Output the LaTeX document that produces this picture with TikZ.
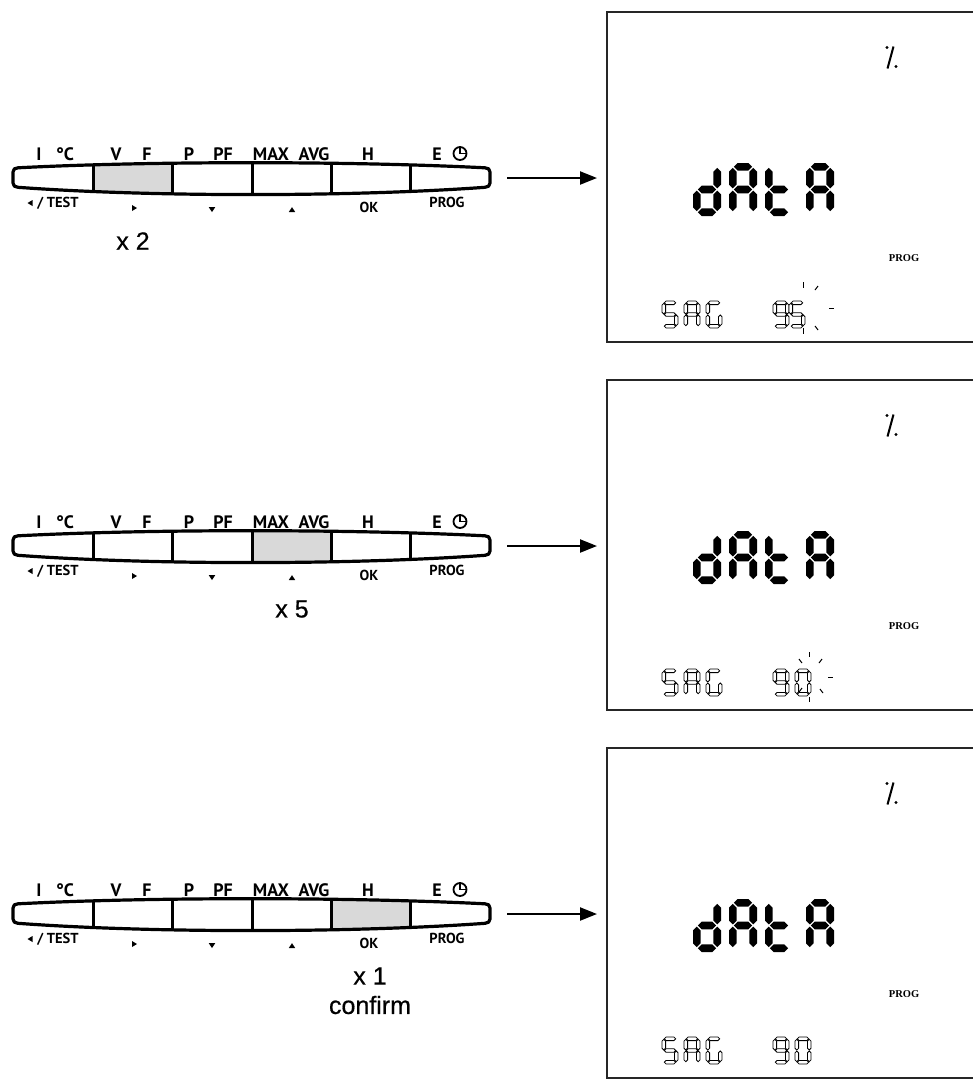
\documentclass[tikz,border=0pt]{standalone}
\usepackage{fontspec}
\setmainfont{Liberation Serif}
\newfontfamily\btnfont{PT Sans}
\newfontfamily\helv[FakeBold=0.6]{Liberation Sans}
\usetikzlibrary{arrows.meta}

\newcommand\HSg[4]{%
 \path[#1] ({#2},{#4}) -- ({#2+\LcH},{#4-\LcH}) -- ({#3-\LcH},{#4-\LcH}) -- ({#3},{#4}) -- ({#3-\LcH},{#4+\LcH}) -- ({#2+\LcH},{#4+\LcH}) -- cycle;}
\newcommand\VSg[4]{%
 \path[#1] ({#2},{#3}) -- ({#2+\LcH},{#3+\LcH}) -- ({#2+\LcH},{#4-\LcH}) -- ({#2},{#4}) -- ({#2-\LcH},{#4-\LcH}) -- ({#2-\LcH},{#3+\LcH}) -- cycle;}
\newcommand\SevSeg[7]{%
 \pgfmathsetmacro\LcX{#2}\pgfmathsetmacro\LcY{#3}\pgfmathsetmacro\LcW{#4}\pgfmathsetmacro\LcHt{#5}%
 \pgfmathsetmacro\LcH{#6/2}\pgfmathsetmacro\LcG{0.14*#6}%
 \pgfmathsetmacro\LcXL{\LcX+\LcH}\pgfmathsetmacro\LcXR{\LcX+\LcW-\LcH}%
 \pgfmathsetmacro\LcHa{\LcXL+\LcG}\pgfmathsetmacro\LcHb{\LcXR-\LcG}%
 \pgfmathsetmacro\LcYT{\LcY+\LcH}\pgfmathsetmacro\LcYM{\LcY+\LcHt/2}\pgfmathsetmacro\LcYB{\LcY+\LcHt-\LcH}%
 \pgfmathsetmacro\LcVa{\LcYT+\LcG}\pgfmathsetmacro\LcVb{\LcYM-\LcG}%
 \pgfmathsetmacro\LcVc{\LcYM+\LcG}\pgfmathsetmacro\LcVd{\LcYB-\LcG}%
 \foreach \s in {#7}{\csname LcSeg\s\endcsname{#1}}}
\newcommand\LcSega[1]{\HSg{#1}{\LcHa}{\LcHb}{\LcYT}}
\newcommand\LcSegg[1]{\HSg{#1}{\LcHa}{\LcHb}{\LcYM}}
\newcommand\LcSegd[1]{\HSg{#1}{\LcHa}{\LcHb}{\LcYB}}
\newcommand\LcSegf[1]{\VSg{#1}{\LcXL}{\LcVa}{\LcVb}}
\newcommand\LcSegb[1]{\VSg{#1}{\LcXR}{\LcVa}{\LcVb}}
\newcommand\LcSege[1]{\VSg{#1}{\LcXL}{\LcVc}{\LcVd}}
\newcommand\LcSegc[1]{\VSg{#1}{\LcXR}{\LcVc}{\LcVd}}

\newcommand\barpath{(13,172) -- (13,183) .. controls (13,186) and (15,187) .. (18,187.3) .. controls (150,197) and (350,197) .. (485,187.3) .. controls (488,187) and (490,186) .. (490,183) -- (490,172) .. controls (490,169) and (488,168) .. (485,167.8) .. controls (350,161) and (150,161) .. (18,167.8) .. controls (15,168) and (13,169) .. (13,172) -- cycle}

\tikzset{
 barline/.style={line width=3.2pt, line join=round},
 divider/.style={line width=3pt},
 hl/.style={fill=black!15},
 toplbl/.style={font=\btnfont\bfseries\fontsize{18}{18}\selectfont, anchor=base},
 botlbl/.style={font=\btnfont\bfseries\fontsize{14.5}{14.5}\selectfont, anchor=base},
 cnt/.style={font=\helv\fontsize{25}{25}\selectfont},
 lcdbox/.style={draw=black!85, line width=1.3pt, minimum width=380pt, minimum height=330pt, anchor=north west},
 bigseg/.style={fill=black},
 smallseg/.style={draw=black, line width=0.8pt, fill=white},
 ray/.style={line width=1pt},
 arr/.style={line width=2.2pt, -{Triangle[length=17pt,width=13pt]}, shorten >=10pt},
 lcdtxt/.style={font=\bfseries\fontsize{10.5}{10.5}\selectfont}
}

\newcommand\Panel[6]{% idx, shift, hl x1, hl x2, 2nd digit x, 2nd digit segs
\begin{scope}[shift={(0,#2)}]
 \fill[white] \barpath;
 \begin{scope}
  \clip \barpath;
  \fill[hl] (#3,150) rectangle (#4,210);
  \foreach \dx in {93,172,252,331,410} \draw[divider] (\dx,150) -- (\dx,210);
 \end{scope}
 \draw[barline] \barpath;
 % top labels
 \node[toplbl] (tI#1) at (39,160) {I};
 \node[toplbl] (tC#1) at (65,160) {°C};
 \node[toplbl] (tV#1) at (116,160) {V};
 \node[toplbl] (tF#1) at (147,160) {F};
 \node[toplbl] (tP#1) at (189,160) {P};
 \node[toplbl] (tPF#1) at (223,160) {PF};
 \node[toplbl] (tMAX#1) at (271,160) {MAX};
 \node[toplbl] (tAVG#1) at (314,160) {AVG};
 \node[toplbl] (tH#1) at (368,160) {H};
 \node[toplbl] (tE#1) at (437,160) {E};
 \draw[line width=1.8pt] (460,153.5) circle (6.5);
 \draw[line width=1.6pt] (460,147.5) -- (460,153.5) -- (466,153.5);
 % bottom labels
 \fill (27.5,203) -- (32.5,200) -- (32.5,206) -- cycle;
 \node[botlbl] (bTEST#1) at (58,207.5) {/ TEST};
 \fill (132,205) -- (137,208) -- (132,211) -- cycle;
 \fill (208.8,207.2) -- (215.2,207.2) -- (212,212) -- cycle;
 \fill (288.8,212) -- (295.2,212) -- (292,207.2) -- cycle;
 \node[botlbl] (bOK#1) at (369,212.5) {OK};
 \node[botlbl] (bPROG#1) at (447,207.5) {PROG};
 % LCD
 \node[lcdbox] (lcd#1) at (607,12) {};
 \coordinate (as#1) at (507,178);
 \draw[arr] (as#1) -- (as#1 -| lcd#1.west);
 \fill (887,47.5) circle (1.7);
 \draw[line width=2pt] (893.5,46.5) -- (887.5,68.5);
 \fill (896,66.5) circle (1.7);
 \SevSeg{bigseg}{693}{163}{28}{53}{7.6}{b,c,d,e,g}
 \SevSeg{bigseg}{729}{163}{28}{53}{7.6}{a,b,c,e,f,g}
 \SevSeg{bigseg}{765}{163}{28}{53}{7.6}{d,e,f,g}
 \SevSeg{bigseg}{806}{163}{28}{53}{7.6}{a,b,c,e,f,g}
 \node[lcdtxt] (lprog#1) at (904,258.5) {PROG};
 \SevSeg{smallseg}{662}{301}{16}{27}{3.6}{a,f,g,c,d}
 \SevSeg{smallseg}{684}{301}{16}{27}{3.6}{a,b,c,e,f,g}
 \SevSeg{smallseg}{706}{301}{16}{27}{3.6}{a,c,d,e,f}
 \SevSeg{smallseg}{773}{301}{16}{27}{3.6}{a,b,c,d,f,g}
 \SevSeg{smallseg}{#5}{301}{16}{27}{3.6}{#6}
\end{scope}}

\begin{document}
\begin{tikzpicture}[x=1pt,y=-1pt, every node/.style={inner sep=0pt, outer sep=0pt}]
\useasboundingbox (0,0) rectangle (973,1080);
\fill[white] (0,0) rectangle (973,1080);

\Panel{1}{0}{93}{172}{789}{a,f,g,c,d}
\Panel{2}{368}{252}{331}{795}{a,b,c,d,e,f}
\Panel{3}{736}{331}{410}{795}{a,b,c,d,e,f}

% panel 1 extras
\node[cnt] (x2) at (133,241) {x 2};
\draw[ray] (803,282) -- (803,288);
\draw[ray] (815,290) -- (818,286);
\draw[ray] (829,308) -- (834,308);
\draw[ray] (815,326) -- (818,330);
\draw[ray] (803,328) -- (803,334);

% panel 2 extras
\begin{scope}[shift={(0,368)}]
\node[cnt] (x5) at (292,241) {x 5};
\draw[ray] (809,284) -- (809,289);
\draw[ray] (819,295) -- (822,291);
\draw[ray] (828,309) -- (833,309);
\draw[ray] (820,321) -- (823,325);
\draw[ray] (809,329) -- (809,334);
\draw[ray] (799,291) -- (802,295);
\draw[ray] (802,320) -- (799,324);
\end{scope}

% panel 3 extras
\begin{scope}[shift={(0,736)}]
\node[cnt] (x1) at (370,240) {x 1};
\node[cnt] (confirm) at (370,269) {confirm};
\end{scope}
\end{tikzpicture}
\end{document}
